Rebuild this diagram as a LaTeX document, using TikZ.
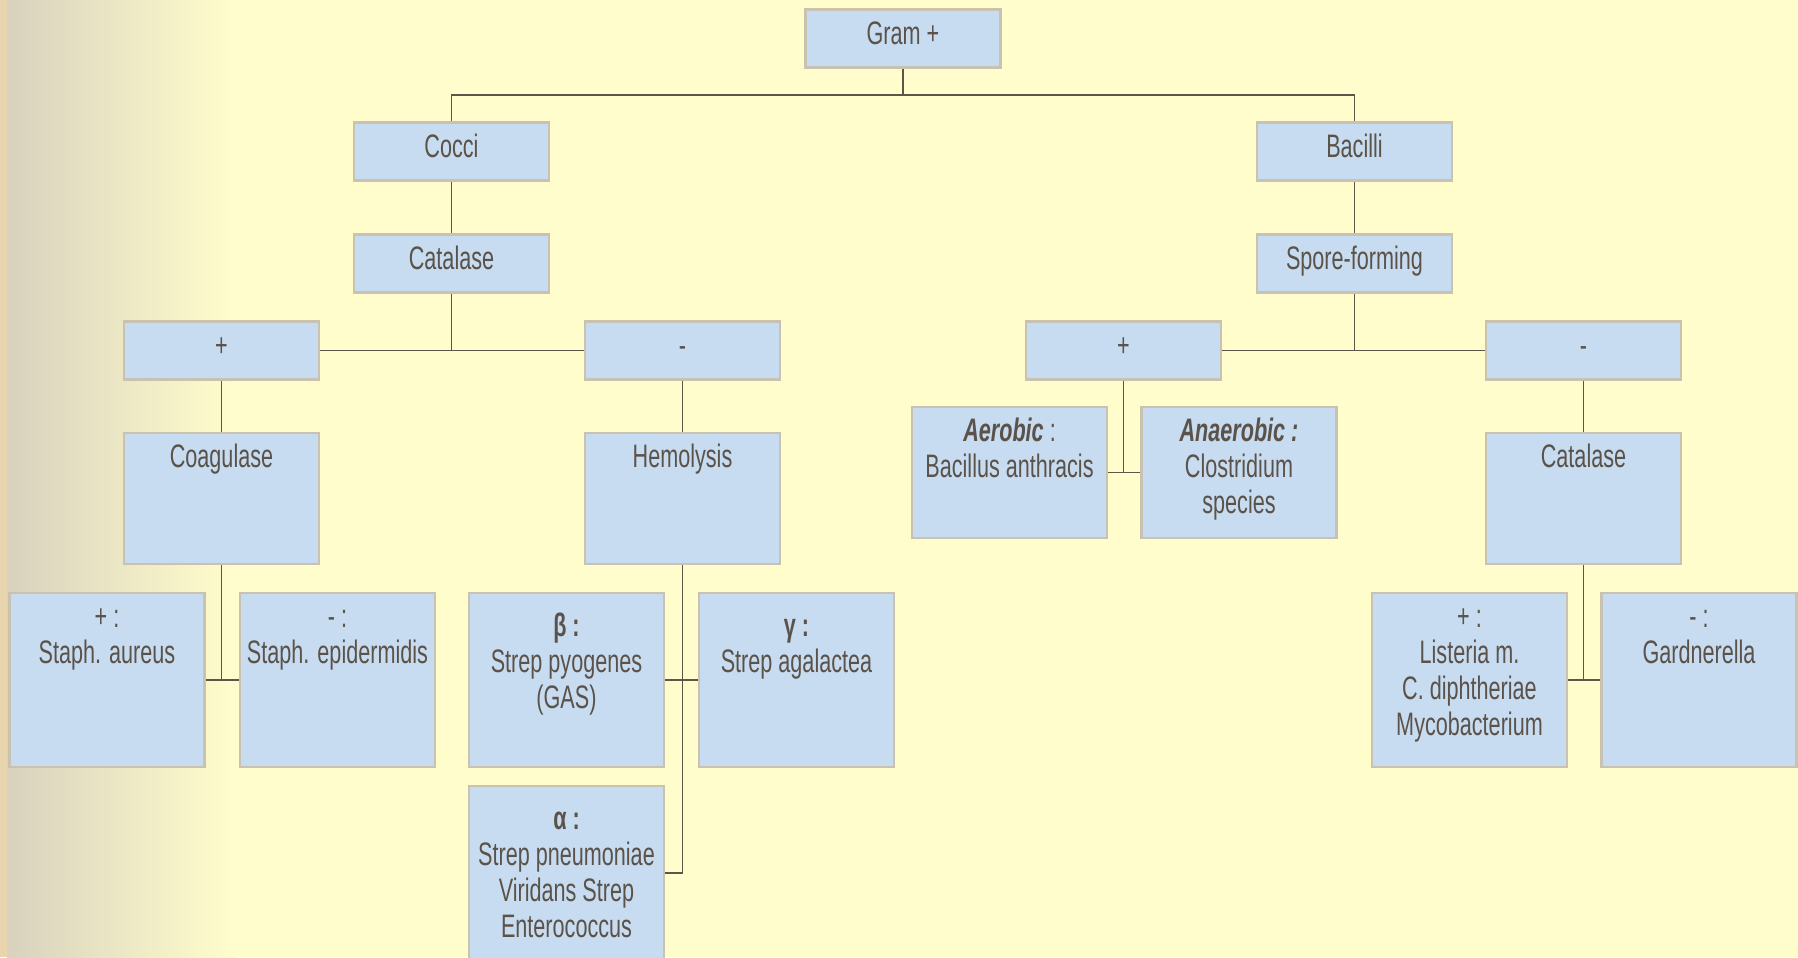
\documentclass[tikz,border=0pt]{standalone}
\usepackage{fontspec}
\setmainfont{Liberation Sans}[FakeStretch=0.665]
\usepackage{tikz}

\definecolor{bgyellow}{HTML}{FFFDCC}
\definecolor{bgshade}{HTML}{D8D2BE}
\definecolor{bgstrip}{HTML}{E8D5AE}
\definecolor{boxfill}{HTML}{C7DCF0}
\definecolor{boxline}{HTML}{C9C2B0}
\definecolor{textcol}{HTML}{5B5249}
\definecolor{linkcol}{HTML}{5E5447}

\begin{document}
\begin{tikzpicture}[x=0.02cm,y=-0.02cm,
    every node/.style={font=\fontsize{18.5}{20.5}\selectfont,text=textcol},
    box/.style={draw=boxline,fill=boxfill,line width=1.2pt,minimum width=3.9cm,inner sep=0pt},
    small/.style={box,minimum height=1.16cm,text height=13.5pt,text depth=6.5pt},
    mid/.style={box,minimum height=2.62cm},
    tall/.style={box,minimum height=3.48cm},
    txt/.style={anchor=north,align=center,inner sep=0pt},
    link/.style={draw=linkcol,line width=1.1pt}]
            \fill[bgyellow] (0,0) rectangle (1798,957);
            \shade[left color=bgshade,right color=bgyellow] (7,0) rectangle (235,957);
            \fill[bgstrip] (0,0) rectangle (7,957);
            \useasboundingbox (0,0) rectangle (1798,957);
            \node[small] (gram) at (903,38.5) {Gram +};
            \node[small] (cocci) at (451.5,151.5) {Cocci};
            \node[small] (bacilli) at (1354.5,151.5) {Bacilli};
            \node[small] (catL) at (451.5,263.5) {Catalase};
            \node[small] (spore) at (1354.5,263.5) {Spore-forming};
            \node[small] (plusL) at (221.5,350.5) {+};
            \node[small] (minusL) at (682.5,350.5) {-};
            \node[small] (plusR) at (1123.5,350.5) {+};
            \node[small] (minusR) at (1583.5,350.5) {-};
            \node[mid] (coag) at (221.5,498.5) {};
            \node[txt] (coag-t) at ([yshift=-0.2cm]coag.north) {\strut Coagulase};
            \node[mid] (hemo) at (682.5,498.5) {};
            \node[txt] (hemo-t) at ([yshift=-0.2cm]hemo.north) {\strut Hemolysis};
            \node[mid] (catR) at (1583.5,498.5) {};
            \node[txt] (catR-t) at ([yshift=-0.2cm]catR.north) {\strut Catalase};
            \node[mid] (aero) at (1009.5,472.5) {};
            \node[txt] (aero-t) at ([yshift=-0.2cm]aero.north) {\strut\textbf{\textit{Aerobic}} :\\Bacillus anthracis};
            \node[mid] (anaero) at (1239,472.5) {};
            \node[txt] (anaero-t) at ([yshift=-0.2cm]anaero.north) {\strut\textbf{\textit{Anaerobic :}}\\Clostridium\\species};
            \node[tall] (aureus) at (107,680) {};
            \node[txt] (aureus-t) at ([yshift=-0.2cm]aureus.north) {\strut + :\\Staph. aureus};
            \node[tall] (epi) at (337.5,680) {};
            \node[txt] (epi-t) at ([yshift=-0.2cm]epi.north) {\strut - :\\Staph. epidermidis};
            \node[tall] (beta) at (566.5,680) {};
            \node[txt] (beta-t) at ([yshift=-0.38cm]beta.north) {\strut\textbf{β :}\\Strep pyogenes\\(GAS)};
            \node[tall] (gamma) at (796.5,680) {};
            \node[txt] (gamma-t) at ([yshift=-0.38cm]gamma.north) {\strut\textbf{γ :}\\Strep agalactea};
            \node[tall] (alpha) at (566.5,873) {};
            \node[txt] (alpha-t) at ([yshift=-0.38cm]alpha.north) {\strut\textbf{α :}\\Strep pneumoniae\\Viridans Strep\\Enterococcus};
            \node[tall] (listeria) at (1469.5,680) {};
            \node[txt] (listeria-t) at ([yshift=-0.2cm]listeria.north) {\strut + :\\Listeria m.\\C. diphtheriae\\Mycobacterium};
            \node[tall] (gard) at (1699,680) {};
            \node[txt] (gard-t) at ([yshift=-0.2cm]gard.north) {\strut - :\\Gardnerella};
            \coordinate (j1) at (903,95);
            \coordinate (j2) at (1123.5,472.5);
            \draw[link] (gram) -- (j1);
            \draw[link] (cocci.north) |- (j1) -| (bacilli.north);
            \draw[link] (cocci) -- (catL);
            \draw[link] (bacilli) -- (spore);
            \draw[link] (plusL) -- (minusL);
            \draw[link] (catL) -- (catL |- plusL);
            \draw[link] (plusR) -- (minusR);
            \draw[link] (spore) -- (spore |- plusR);
            \draw[link] (plusL) -- (coag);
            \draw[link] (minusL) -- (hemo);
            \draw[link] (minusR) -- (catR);
            \draw[link] (plusR) -- (j2);
            \draw[link] (aero) -- (anaero);
            \draw[link] (coag) -- (coag |- aureus);
            \draw[link] (aureus) -- (epi);
            \draw[link] (hemo) -- (hemo |- alpha);
            \draw[link] (beta) -- (gamma);
            \draw[link] (alpha) -- (alpha -| hemo);
            \draw[link] (catR) -- (catR |- listeria);
            \draw[link] (listeria) -- (gard);
        \end{tikzpicture}
\end{document}
